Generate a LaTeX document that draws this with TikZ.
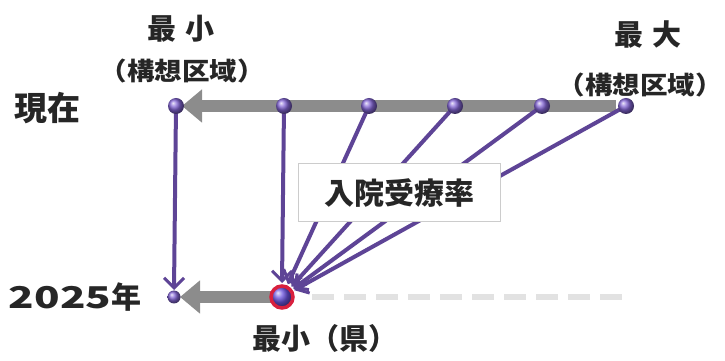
\documentclass[tikz,border=0pt]{standalone}
\usepackage{fontspec}
\newfontfamily\cjk{Noto Sans CJK JP}
\usetikzlibrary{arrows.meta,calc}
\definecolor{dotpurple}{HTML}{8466D6}
\definecolor{linepurple}{HTML}{5E4496}
\definecolor{bargrey}{HTML}{8C8C8C}
\definecolor{dashgrey}{HTML}{E2E2E2}
\definecolor{ringred}{HTML}{D8203E}
\newcommand{\areatext}{\scalebox{1.1}[1]{（構想区域）}}
\begin{document}
\begin{tikzpicture}[x=1pt,y=1pt,
  dot/.style={circle, inner sep=0pt, minimum size=16pt, shading=ball, ball color=dotpurple},
  reddot/.style={circle, inner sep=0pt, minimum size=22pt, draw=ringred, line width=3.5pt, shading=ball, ball color=dotpurple!80!blue},
  flow/.style={draw=linepurple, line width=4pt, -{Straight Barb[length=10pt,width=20pt,line width=3pt]}},
  greyarrow/.style={draw=bargrey, line width=12pt, -{Triangle[length=20pt,width=32pt]}},
  lbl/.style={font=\cjk\bfseries\fontsize{#1}{#1}\selectfont, text=black!85, inner sep=0pt},
  ratebox/.style={draw=black!20, line width=1pt, fill=white, minimum width=202pt, minimum height=58pt, inner sep=0pt}
]
\useasboundingbox (0,0) rectangle (725,361);

% dots (positions)
\coordinate (t1) at (176,255);
\coordinate (t2) at (284,255);
\coordinate (t3) at (369,255);
\coordinate (t4) at (455,255);
\coordinate (t5) at (542,255);
\coordinate (t6) at (626,255);
\coordinate (b1) at (174,64);
\coordinate (b2) at (282,64);
\coordinate (ds) at (312,64);
\coordinate (de) at (622,64);

% grey range arrows
\draw[greyarrow] ([xshift=-10pt]t6) -- ([xshift=6pt]t1);
\draw[greyarrow] ([xshift=-10pt]b2) -- ([xshift=6pt]b1);
\draw[draw=dashgrey, line width=6pt, dash pattern=on 22pt off 10pt] (ds) -- (de);

% purple flows
\draw[flow] (t1) -- ([yshift=7pt]b1);
\draw[flow] (t2) -- ([yshift=14pt]b2);
\draw[flow] (t3) -- ($(b2)!14pt!(t3)$);
\draw[flow] (t4) -- ($(b2)!14pt!(t4)$);
\draw[flow] (t5) -- ($(b2)!14pt!(t5)$);
\draw[flow] (t6) -- ($(b2)!14pt!(t6)$);

% dots on top
\node[dot] (n1) at (t1) {};
\node[dot] (n2) at (t2) {};
\node[dot] (n3) at (t3) {};
\node[dot] (n4) at (t4) {};
\node[dot] (n5) at (t5) {};
\node[dot] (n6) at (t6) {};
\node[dot, minimum size=13pt] (m1) at (b1) {};
\node[reddot] (m2) at (b2) {};

% box
\node[ratebox, lbl=30] (rate) at (399,168) {入院受療率};

% labels
\node[lbl=33] (now) at (47,253) {現在};
\node[lbl=30] (year) at (75,64) {\scalebox{1.4}[1]{2025}年};
\node[lbl=29] (minL) at (181,332) {最\hspace{10pt}小};
\node[lbl=25] (minR) at (182,290) {\areatext};
\node[lbl=29] (maxL) at (648,326) {最\hspace{10pt}大};
\node[lbl=25] (maxR) at (640,276) {\areatext};
\node[lbl=29] (minP) at (325,23) {最小（県）};
\end{tikzpicture}
\end{document}
